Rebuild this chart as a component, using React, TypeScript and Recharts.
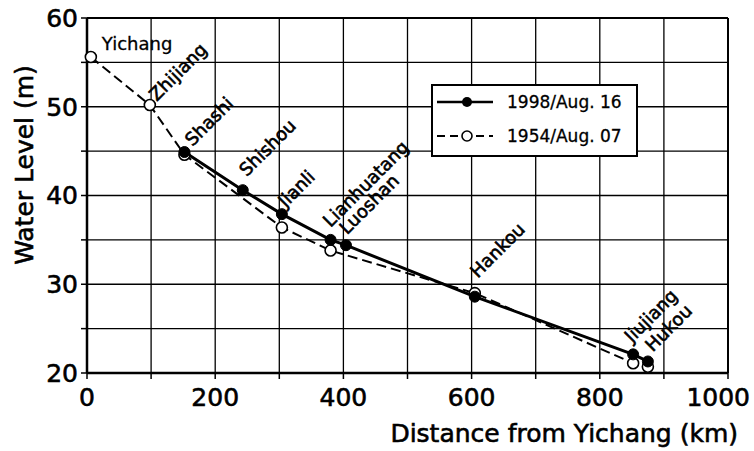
import React from 'react';
import {
  LineChart,
  Line,
  XAxis,
  YAxis,
  CartesianGrid,
  Legend,
  LabelList,
  ReferenceLine,
} from 'recharts';

// Stations along the Yangtze, distance downstream from Yichang
const stations = ['Yichang', 'Zhijiang', 'Shashi', 'Shishou', 'Jianli', 'Lianhuatang', 'Luoshan', 'Hankou', 'Jiujiang', 'Hukou'];
const distanceKm = [6, 98, 152, 243, 304, 380, 404, 605, 852, 875];
const level1998 = [null, null, 44.9, 40.6, 37.9, 35.0, 34.4, 28.6, 22.1, 21.3];
const level1954 = [55.6, 50.2, 44.6, null, 36.4, 33.8, null, 29.0, 21.1, 20.7];

const xTicks = [0, 100, 200, 300, 400, 500, 600, 700, 800, 900, 1000];
const yTicks = [20, 25, 30, 35, 40, 45, 50, 55, 60];

const seriesNames = ['1998/Aug. 16', '1954/Aug. 07'];

// small nudges so the station names sit like in the original figure
const labelNudge: Record<string, [number, number]> = {
  Yichang: [11, -7],
  Zhijiang: [7, -3],
  Shashi: [8, -5],
  Shishou: [4, -13],
  Jianli: [4, -6],
  Lianhuatang: [0, -12],
  Luoshan: [1, -10],
  Hankou: [3, -18],
  Jiujiang: [-1, -11],
  Hukou: [5, -9],
};

const rows = stations.map((name, i) => ({
  name,
  km: distanceKm[i],
  y1998: level1998[i],
  y1954: level1954[i],
}));

const FONT = '"DejaVu Sans", Verdana, sans-serif';
// the scanned original has slightly heavier type; a thin outline mimics it
const INK = { fill: '#000', stroke: '#000', strokeWidth: 0.6 };

const filledDot = (props: any) => {
  const { cx, cy, value, index } = props;
  if (value == null || cy == null) return <g key={`f${index}`} />;
  return <circle key={`f${index}`} cx={cx} cy={cy} r={5.5} fill="#000" stroke="#000" strokeWidth={1} />;
};

const openDot = (props: any) => {
  const { cx, cy, value, index } = props;
  if (value == null || cy == null) return <g key={`o${index}`} />;
  return <circle key={`o${index}`} cx={cx} cy={cy} r={5.5} fill="#fff" stroke="#000" strokeWidth={1.6} />;
};

const makeLabel = (only: (name: string) => boolean) => (props: any) => {
  const { x, y, value } = props;
  if (x == null || y == null || !only(value)) return null;
  const [dx, dy] = labelNudge[value] || [4, -9];
  const tx = x + dx;
  const ty = y + dy;
  const horizontal = value === 'Yichang';
  return (
    <text
      x={tx}
      y={ty}
      fontFamily={FONT}
      fontSize={18}
      {...INK}
      strokeWidth={horizontal ? 0.3 : 0.6}
      transform={horizontal ? undefined : `rotate(-45 ${tx} ${ty})`}
    >
      {value}
    </text>
  );
};

const renderLegend = () => (
  <svg width={208} height={74}>
    <rect x={1} y={1} width={205} height={71} fill="#fff" stroke="#000" strokeWidth={2} />
    <line x1={6} y1={18} x2={62} y2={18} stroke="#000" strokeWidth={2.5} />
    <circle cx={36} cy={18} r={5} fill="#000" />
    <text x={76} y={24} fontFamily={FONT} fontSize={17} {...INK} strokeWidth={0.3}>{seriesNames[0]}</text>
    <line x1={6} y1={52} x2={62} y2={52} stroke="#000" strokeWidth={2} strokeDasharray="8 5" />
    <circle cx={36} cy={52} r={5} fill="#fff" stroke="#000" strokeWidth={1.6} />
    <text x={76} y={58} fontFamily={FONT} fontSize={17} {...INK} strokeWidth={0.3}>{seriesNames[1]}</text>
  </svg>
);

const xTick = (props: any) => {
  const { x, y, payload } = props;
  const v = payload.value;
  if (v % 200 !== 0) return <g />;
  const last = v === 1000;
  return (
    <text x={last ? x + 22 : x} y={y} dy="0.71em" textAnchor={last ? 'end' : 'middle'} fontFamily={FONT} fontSize={25} {...INK}>
      {v}
    </text>
  );
};

const yTick = (props: any) => {
  const { x, y, payload } = props;
  const v = payload.value;
  if (v % 10 !== 0) return <g />;
  return (
    <text x={x} y={y} dy="0.355em" textAnchor="end" fontFamily={FONT} fontSize={25} {...INK}>
      {v}
    </text>
  );
};

const xTitle = (props: any) => {
  const { viewBox } = props;
  return (
    <text x={viewBox.x + viewBox.width + 10} y={viewBox.y + 69} textAnchor="end" fontFamily={FONT} fontSize={25} {...INK}>
      Distance from Yichang (km)
    </text>
  );
};

const yTitle = () => {
  const cx = 24;
  const cy = 165;
  return (
    <text x={cx} y={cy} textAnchor="middle" dominantBaseline="central" fontFamily={FONT} fontSize={25} {...INK} transform={`rotate(-90 ${cx} ${cy})`}>
      {'Water Level  (m)'}
    </text>
  );
};

export default function App() {
  return (
    <div style={{ position: 'absolute', left: 0, top: 0, width: 754, height: 451, background: '#fff' }}>
      <LineChart width={754} height={451} data={rows} margin={{ top: 18, right: 26, bottom: 0, left: 0 }}>
        <CartesianGrid stroke="#000" strokeWidth={1.3} />
        <XAxis
          dataKey="km"
          type="number"
          domain={[0, 1000]}
          ticks={xTicks}
          height={78}
          axisLine={{ stroke: '#000', strokeWidth: 2.5 }}
          tickLine={{ stroke: '#000', strokeWidth: 1.5 }}
          tickSize={6}
          tickMargin={9}
          tick={xTick}
          label={xTitle}
          interval={0}
        />
        <YAxis
          type="number"
          domain={[20, 60]}
          ticks={yTicks}
          width={87}
          axisLine={{ stroke: '#000', strokeWidth: 2.5 }}
          tickLine={{ stroke: '#000', strokeWidth: 1.5 }}
          tickSize={6}
          tickMargin={3}
          tick={yTick}
          label={yTitle}
          interval={0}
        />
        <ReferenceLine y={60} stroke="#000" strokeWidth={2} />
        <ReferenceLine x={1000} stroke="#000" strokeWidth={2} />
        <Legend
          layout="horizontal"
          align="center"
          verticalAlign="middle"
          content={renderLegend}
          wrapperStyle={{ position: 'absolute', left: 431, top: 84, width: 208, height: 74 }}
        />
        <Line
          dataKey="y1954"
          name={seriesNames[1]}
          stroke="#000"
          strokeWidth={2}
          strokeDasharray="10 5"
          dot={openDot}
          activeDot={false}
          connectNulls
          isAnimationActive={false}
        >
          <LabelList dataKey="name" content={makeLabel((n) => n === 'Yichang' || n === 'Zhijiang')} />
        </Line>
        <Line
          dataKey="y1998"
          name={seriesNames[0]}
          stroke="#000"
          strokeWidth={3}
          dot={filledDot}
          activeDot={false}
          connectNulls
          isAnimationActive={false}
        >
          <LabelList dataKey="name" content={makeLabel(() => true)} />
        </Line>
      </LineChart>
    </div>
  );
}
